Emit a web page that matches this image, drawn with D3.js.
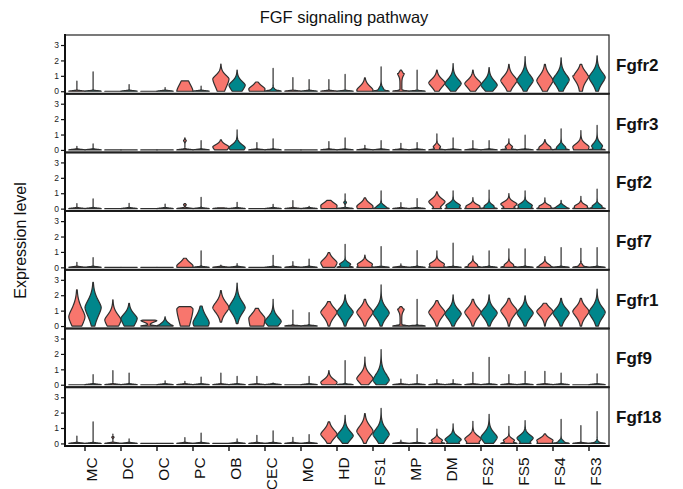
<!DOCTYPE html>
<html><head><meta charset="utf-8">
<script src="https://cdn.jsdelivr.net/npm/d3@7"></script>
<style>body{margin:0;background:#fff} text{font-family:"Liberation Sans",Arial,Helvetica,sans-serif}</style>
</head><body><svg id="c" width="683" height="489"></svg>
<script>
const title = "FGF signaling pathway";
const yLabel = "Expression level";
const cellTypes = ["MC","DC","OC","PC","OB","CEC","MO","HD","FS1","MP","DM","FS2","FS5","FS4","FS3"];
const genes = ["Fgfr2","Fgfr3","Fgf2","Fgf7","Fgfr1","Fgf9","Fgf18"];
const groups = ["g1","g2"];
const groupColors = ["#F8766D","#00868B"];
const yTicks = [0,1,2,3];
// each violin: [max, mode, sdBelow, sdAbove, zeroSpike, min, stem]; [max] alone = mostly zeros with sparse tail
// order: MC g1, MC g2, DC g1, DC g2, ... FS3 g1, FS3 g2
const fgfr2 = [[0.65],[1.26],[0],[0.43],[0],[0.24],[0.67,0,1,0.5,0],[0.33],
  [1.76,0.8,0.6,0.25,0],[1.37,0.4,0.4,0.25,0],[0.6,0.15,0.5,0.2,0],[1.48,0.05,0.1,0.1,2],
  [0.89],[0.76],[0.76],[1.09],[0.87,0.08,0.5,0.25,0],[1.59,0.1,0.3,0.15,2],
  [1.37,1.15,0.15,0.12,3,0,0.4],[1.37],[1.37,0.55,0.3,0.25,0],[1.8,0.5,0.3,0.3,0],
  [1.37,0.5,0.3,0.25,0],[1.54,0.4,0.3,0.3,0],[1.74,0.7,0.35,0.3,0],[2.24,0.7,0.35,0.35,0],
  [1.74,0.7,0.4,0.35,0],[2.17,0.75,0.4,0.35,0],[1.74,1.0,0.35,0.3,0,0,0.15],[2.3,0.9,0.4,0.35,0]];
const fgfr3 = [[0.24],[0.39],[0],[0],[0],[0],[0.78,0.6,0.06,0.06,6],[0.6],
  [0.65,0.2,0.3,0.15,0],[1.3,0.15,0.3,0.2,0],[0.48],[0.72],
  [0],[0],[0.54],[0.78],[0.3],[0.6],
  [0.43],[0.48],[1.04,0.2,0.1,0.12,2],[0.78],
  [0.6],[0.6],[0.72,0.2,0.1,0.1,2],[0.96],
  [0.67,0.15,0.3,0.15,0.5],[1.37,0.15,0.2,0.15,1],[1.26,0.2,0.5,0.2,0],[1.59,0.25,0.2,0.2,1]];
const fgf2 = [[0.33],[0.63],[0],[0.35],[0],[0.3],[0.33,0.25,0.05,0.05,6],[0.74],
  [0.05],[0.41],[0],[0.28],
  [0.52],[0.15],[0.54,0.2,1,0.18,0],[0.96,0.4,0.06,0.06,6],[0.7,0.15,0.5,0.2,0],[1.15,0.1,0.1,0.12,1],
  [0.39],[0.65],[1.09,0.45,0.25,0.2,0.3],[1.15,0.2,0.2,0.15,0.5],
  [0.72,0.15,0.3,0.12,0.3],[1.2,0.15,0.15,0.12,1],[0.98,0.3,0.2,0.15,0.5],[1.15,0.2,0.2,0.15,0.5],
  [0.7,0.15,0.3,0.1,0.5],[0.54,0.1,0.1,0.1,1],[0.8,0.15,0.2,0.12,0.5],[1.26,0.15,0.15,0.12,1]];
const fgf7 = [[0.33],[0.63],[0],[0],[0],[0],[0.59,0.1,1,0.22,0],[1.07],
  [0.15],[0.24],[0],[0.78],
  [0.37],[0.54],[0.96,0.3,0.4,0.25,0],[1.5,0.2,0.15,0.12,1],[0.8,0.2,0.3,0.15,0.3],[1.35],
  [0.22],[1.09],[1.07,0.2,0.3,0.15,0.3],[1.57],
  [0.74,0.15,0.2,0.12,1],[1.07],[1.2,0.15,0.2,0.12,1],[1.2],
  [0.7,0.1,0.3,0.12,0.5],[1.28],[1.24,0.1,0.1,0.1,3],[1.28]];
const fgfr1 = [[2.35,0.6,0.6,0.55,0],[2.83,1.2,0.6,0.5,0],[1.7,0.4,0.5,0.35,0],[1.48,0.5,0.5,0.3,0],
  [0.39,0.35,0.1,0.05,1],[0.6,0.05,0.1,0.15,0.5],[1.26,1.1,1.0,0.2,0],[1.3,0.2,0.5,0.45,0],
  [2.3,1.2,0.35,0.35,0,0.25],[2.78,1.2,0.4,0.4,0,0.15],[1.15,0.5,1.0,0.3,0],[1.74,0.3,0.3,0.3,0],
  [1.04],[0.87],[1.59,0.9,0.35,0.3,0],[2.02,0.9,0.35,0.3,0],
  [1.74,0.9,0.35,0.3,0],[2.67,0.85,0.35,0.35,0],[1.26,1.1,0.15,0.1,3,0,0.35],[1.74],
  [1.65,0.9,0.35,0.3,0],[2.02,0.8,0.35,0.3,0],[1.74,0.9,0.35,0.3,0],[2.02,0.85,0.35,0.3,0],
  [1.8,1.0,0.35,0.3,0],[1.96,0.85,0.35,0.3,0],[1.48,0.95,0.3,0.25,0],[1.8,0.85,0.35,0.3,0],
  [1.8,0.95,0.35,0.3,0],[2.39,0.9,0.4,0.35,0]];
const fgf9 = [[0],[0.65],[0.91],[0.76],[0],[0.26],[0.22],[0.5],
  [0.76],[0.54],[0.54],[0.1],
  [0],[0.54],[0.91,0.15,0.3,0.2,0],[1.57],[1.8,0.4,0.3,0.3,0],[2.28,0.3,0.3,0.4,0],
  [0.37],[0.65],[0.33],[0.33],
  [0.8],[1.78],[0.65],[0.87],
  [0.87],[0.76],[0],[0.7]];
const fgf18 = [[0.48],[1.4],[0.6,0.4,0.04,0.04,7],[0.29],[0],[0],[0.38],[0.67],
  [0],[0.29],[0.53],[0.82],
  [0.4],[0.58],[1.4,0.6,0.3,0.3,0],[1.82,0.5,0.3,0.3,0],[1.93,0.8,0.35,0.35,0],[2.27,0.6,0.35,0.35,0],
  [0.22],[0.96],[0.93,0.2,0.15,0.12,1],[1.27,0.25,0.2,0.2,0.3],
  [1.44,0.3,0.3,0.2,0.2],[1.89,0.4,0.35,0.3,0],[1.11,0.2,0.15,0.12,1],[1.49,0.35,0.25,0.2,0.3],
  [0.62,0.2,0.3,0.15,0.2],[1.56,0.1,0.1,0.1,2],[1.16],[2.07,0.05,0.1,0.1,3]];
const geneData = [fgfr2, fgfr3, fgf2, fgf7, fgfr1, fgf9, fgf18];

const svg = d3.select("#c");
const left = 65, right = 609, top0 = 35, panelH = 58.7;
const x = d3.scaleBand().domain(cellTypes).range([67, 607]).padding(0);
const dodge = d3.scaleBand().domain(groups).range([-16.2, 16.2]).padding(0);
const color = d3.scaleOrdinal().domain(groups).range(groupColors);

function profile(p) {
  const [mx, mode, sLo, sHi, z = 0, mn = 0, stem = 0] = p;
  const n = 140, pts = [];
  for (let i = 0; i <= n; i++) {
    const v = mn + (mx - mn) * i / n;
    let d;
    if (mode === undefined) {
      d = Math.exp(-0.5 * Math.pow(v / 0.035, 2)) + 0.0001;
    } else {
      const t = (v - mode) / (v < mode ? sLo : sHi);
      d = Math.exp(-0.5 * Math.pow(Math.abs(t), 1.6)) + z * Math.exp(-0.5 * Math.pow(v / 0.04, 2)) + (v < mode ? stem : 0);
    }
    pts.push({v, d});
  }
  const m = d3.max(pts, q => q.d);
  pts.forEach(q => q.d /= m);
  return pts;
}

svg.append("text").attr("x", 344).attr("y", 23).attr("text-anchor", "middle")
  .attr("font-size", 16.5).attr("fill", "#111").text(title);
svg.append("text").attr("transform", `translate(26,240.5) rotate(-90)`).attr("text-anchor", "middle")
  .attr("font-size", 16).attr("fill", "#111").text(yLabel);

const hw = 8.1;
genes.forEach((g, gi) => {
  const top = top0 + gi * panelH;
  const y = d3.scaleLinear().domain([-0.16, 3.65]).range([top + panelH, top]);
  const panel = svg.append("g");
  panel.append("rect").attr("x", left).attr("y", top).attr("width", right - left).attr("height", panelH)
    .attr("fill", "none").attr("stroke", "#222").attr("stroke-width", 1.2);
  const data = geneData[gi];
  cellTypes.forEach((c, ci) => {
    groups.forEach((grp, k) => {
      const p = data[ci * 2 + k];
      const cx = x(c) + x.bandwidth() / 2 + dodge(grp) + dodge.bandwidth() / 2;
      const pts = profile(p);
      const area = d3.area().curve(d3.curveLinear)
        .y(q => y(q.v)).x0(q => cx - q.d * hw).x1(q => cx + q.d * hw);
      panel.append("path").attr("d", area(pts)).attr("fill", color(grp))
        .attr("stroke", "#2e2e2e").attr("stroke-width", 1.2).attr("stroke-linejoin", "round");
    });
  });
  const ax = panel.append("g").attr("transform", `translate(${left},0)`)
    .call(d3.axisLeft(y).tickValues(yTicks).tickFormat(d3.format("d")).tickSize(4).tickSizeOuter(0).tickPadding(2));
  ax.select(".domain").remove();
  ax.selectAll("line").attr("stroke", "#111").attr("stroke-width", 1.2);
  ax.selectAll("text").attr("font-size", 8.5).attr("fill", "#222")
    .style("font-family", "'Liberation Sans',Arial,sans-serif");
  panel.append("line").attr("x1", left - 1).attr("x2", right + 0.6).attr("y1", top + panelH).attr("y2", top + panelH)
    .attr("stroke", "#111").attr("stroke-width", 2);
  panel.append("text").attr("x", 616).attr("y", top + panelH / 2 + 1).attr("dominant-baseline", "central")
    .attr("font-size", 17).attr("font-weight", "bold").attr("fill", "#111").text(g);
});
svg.append("line").attr("x1", left).attr("x2", left).attr("y1", top0 - 1).attr("y2", top0 + 7 * panelH + 1)
  .attr("stroke", "#111").attr("stroke-width", 2);

const xa = svg.append("g").attr("transform", `translate(0,${top0 + 7 * panelH})`)
  .call(d3.axisBottom(x).tickSize(5).tickSizeOuter(0));
xa.select(".domain").remove();
xa.selectAll("line").attr("stroke", "#111").attr("stroke-width", 1.4);
xa.selectAll("text").attr("transform", "rotate(-90)").attr("x", -11.5).attr("y", 12).attr("dy", 0)
  .attr("text-anchor", "end").attr("font-size", 15.5).attr("fill", "#111")
  .style("font-family", "'Liberation Sans',Arial,sans-serif");
</script></body></html>
